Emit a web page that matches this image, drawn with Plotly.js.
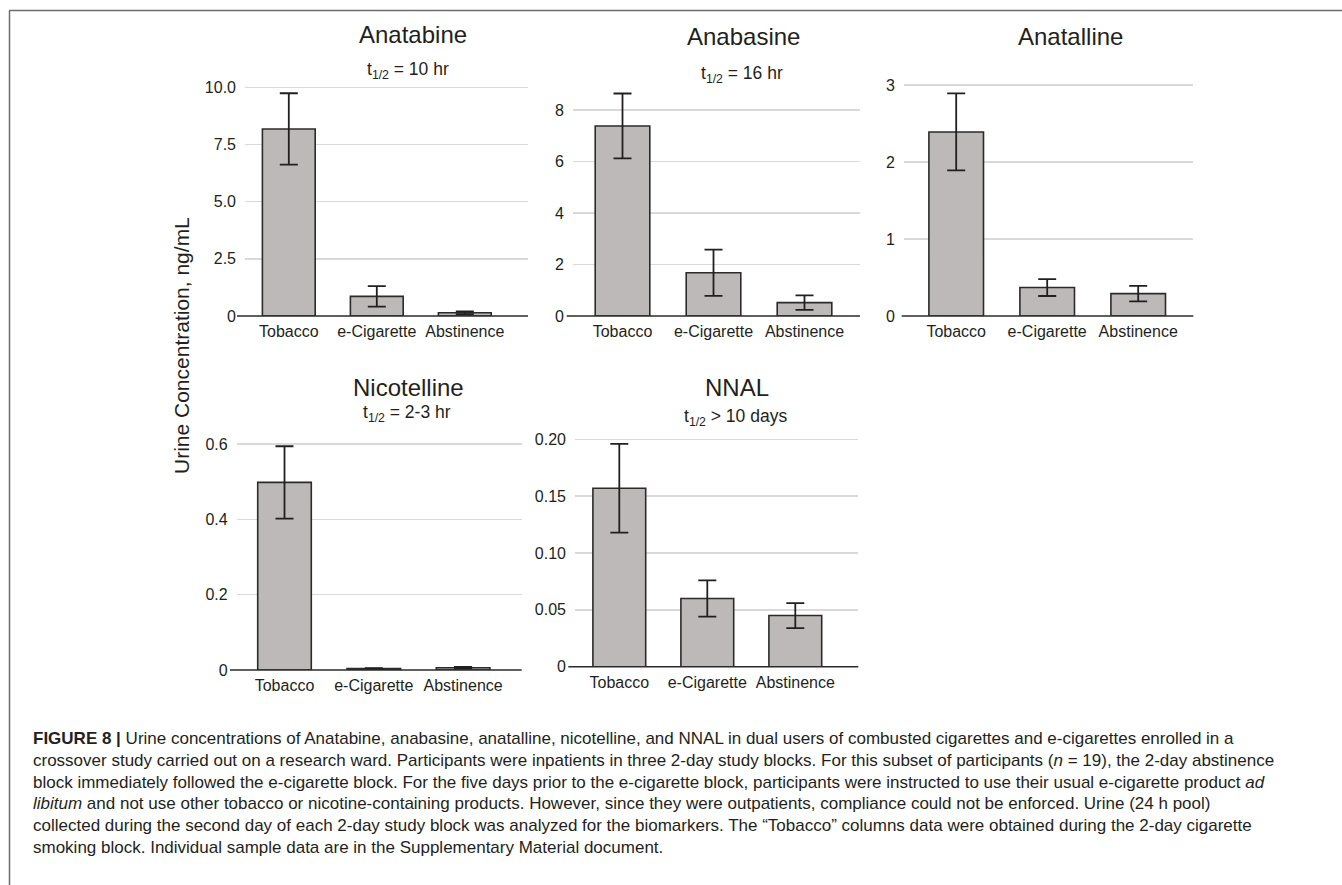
<!DOCTYPE html>
<html>
<head>
<meta charset="utf-8">
<script src="https://cdn.plot.ly/plotly-3.0.1.min.js"></script>
<style>
html,body{margin:0;padding:0;background:#fff;}
#chart{width:1342px;height:885px;}
</style>
</head>
<body>
<div id="chart"></div>
<script>
// ---------------- data ----------------
const categories = ['Tobacco', 'e-Cigarette', 'Abstinence'];

const anatabineMean = [8.18, 0.86, 0.14];
const anatabineErr  = [1.56, 0.45, 0.06];

const anabasineMean = [7.38, 1.68, 0.52];
const anabasineErr  = [1.26, 0.90, 0.28];

const anatallineMean = [2.39, 0.37, 0.29];
const anatallineErr  = [0.50, 0.11, 0.10];

const nicotellineMean = [0.498, 0.004, 0.006];
const nicotellineErr  = [0.096, 0.001, 0.002];

const nnalMean = [0.157, 0.060, 0.045];
const nnalErr  = [0.039, 0.016, 0.011];

const panelTitles = ['Anatabine', 'Anabasine', 'Anatalline', 'Nicotelline', 'NNAL'];
const panelSubtitles = ['t<sub>1/2</sub> = 10 hr', 't<sub>1/2</sub> = 16 hr', '', 't<sub>1/2</sub> = 2-3 hr', 't<sub>1/2</sub> &gt; 10 days'];

const tickVals1 = [0, 2.5, 5, 7.5, 10];      const tickText1 = ['0', '2.5', '5.0', '7.5', '10.0'];
const tickVals2 = [0, 2, 4, 6, 8];           const tickText2 = ['0', '2', '4', '6', '8'];
const tickVals3 = [0, 1, 2, 3];              const tickText3 = ['0', '1', '2', '3'];
const tickVals4 = [0, 0.2, 0.4, 0.6];        const tickText4 = ['0', '0.2', '0.4', '0.6'];
const tickVals5 = [0, 0.05, 0.10, 0.15, 0.20]; const tickText5 = ['0', '0.05', '0.10', '0.15', '0.20'];

const yAxisTitle = 'Urine Concentration, ng/mL';

const captionLines = [
  '<b>FIGURE 8 |</b> Urine concentrations of Anatabine, anabasine, anatalline, nicotelline, and NNAL in dual users of combusted cigarettes and e-cigarettes enrolled in a',
  'crossover study carried out on a research ward. Participants were inpatients in three 2-day study blocks. For this subset of participants (<i>n</i> = 19), the 2-day abstinence',
  'block immediately followed the e-cigarette block. For the five days prior to the e-cigarette block, participants were instructed to use their usual e-cigarette product <i>ad</i>',
  '<i>libitum</i> and not use other tobacco or nicotine-containing products. However, since they were outpatients, compliance could not be enforced. Urine (24 h pool)',
  'collected during the second day of each 2-day study block was analyzed for the biomarkers. The \u201cTobacco\u201d columns data were obtained during the 2-day cigarette',
  'smoking block. Individual sample data are in the Supplementary Material document.'
];

// ---------------- layout geometry (pixels) ----------------
const W = 1342, H = 885;
const FONT = '"Liberation Sans", Arial, Helvetica, sans-serif';
const TXT = '#231f20';

const panels = [
  {mean: anatabineMean,  err: anatabineErr,  tv: tickVals1, tt: tickText1, gl: 245,   gr: 528,   c0: 288.8, step: 88,   al: 237,   y0: 316,   topV: 10,  topPx: 87.3, tx: 413,    ty: 35,  sx: 408, sy: 70},
  {mean: anabasineMean,  err: anabasineErr,  tv: tickVals2, tt: tickText2, gl: 573,   gr: 860,   c0: 622.5, step: 91,   al: 566.7, y0: 316,   topV: 8,   topPx: 110,  tx: 743.7,  ty: 37,  sx: 742, sy: 74.5},
  {mean: anatallineMean, err: anatallineErr, tv: tickVals3, tt: tickText3, gl: 904,   gr: 1193.3,c0: 956.2, step: 91,   al: 901.7, y0: 316,   topV: 3,   topPx: 85,   tx: 1070.5, ty: 37,  sx: 0,   sy: 0},
  {mean: nicotellineMean,err: nicotellineErr,tv: tickVals4, tt: tickText4, gl: 236.7, gr: 521.7, c0: 284.5, step: 89.3, al: 230,   y0: 670,   topV: 0.6, topPx: 444,  tx: 408.5,  ty: 387, sx: 407, sy: 413},
  {mean: nnalMean,       err: nnalErr,       tv: tickVals5, tt: tickText5, gl: 575,   gr: 858.3, c0: 619.3, step: 88,   al: 568.3, y0: 666.7, topV: 0.2, topPx: 439.3,tx: 736.7,  ty: 387, sx: 735, sy: 417}
];

const px2x = p => p / W;
const px2y = p => 1 - p / H;

const data = [];
const layout = {
  width: W, height: H,
  margin: {l: 0, r: 0, t: 0, b: 0},
  paper_bgcolor: '#ffffff',
  plot_bgcolor: 'rgba(0,0,0,0)',
  showlegend: false,
  font: {family: FONT, color: TXT, size: 16},
  shapes: [],
  annotations: []
};

panels.forEach((p, i) => {
  const n = i + 1;
  const xa = 'xaxis' + (n === 1 ? '' : n);
  const ya = 'yaxis' + (n === 1 ? '' : n);
  const xr = 'x' + (n === 1 ? '' : n);
  const yr = 'y' + (n === 1 ? '' : n);

  data.push({
    type: 'bar',
    x: [0, 1, 2],
    y: p.mean,
    width: 0.6,
    xaxis: xr, yaxis: yr,
    marker: {color: '#bdb9b8', line: {color: '#2b2b2b', width: 1.6}},
    error_y: {type: 'data', array: p.err, visible: true, color: TXT, thickness: 1.8, width: 9},
    cliponaxis: false,
    hoverinfo: 'y'
  });

  const xmin = (p.gl - p.c0) / p.step;
  const xmax = (p.gr - p.c0) / p.step;
  const ppu = (p.y0 - p.topPx) / p.topV;
  let hi = 0;
  p.mean.forEach((m, k) => { hi = Math.max(hi, m + p.err[k]); });
  const ymax = Math.max(p.topV * 1.02, hi * 1.03);
  const topDomPx = p.y0 - ymax * ppu;

  layout[xa] = {
    domain: [px2x(p.gl), px2x(p.gr)],
    range: [xmin, xmax],
    anchor: yr,
    tickmode: 'array',
    tickvals: [0, 1, 2],
    ticktext: categories,
    showgrid: false, zeroline: false, showline: false,
    ticks: '',
    ticklabelstandoff: 4,
    tickfont: {family: FONT, size: 16, color: TXT},
    fixedrange: true
  };
  layout[ya] = {
    domain: [px2y(p.y0), px2y(topDomPx)],
    range: [0, ymax],
    anchor: xr,
    tickmode: 'array',
    tickvals: p.tv,
    ticktext: p.tt,
    showgrid: true, gridcolor: '#d9d9d9', gridwidth: 1.5,
    zeroline: false, showline: false,
    ticks: '',
    ticklabelstandoff: 8,
    tickfont: {family: FONT, size: 16, color: TXT},
    fixedrange: true
  };

  // baseline (axis line) extending slightly left of the gridlines
  layout.shapes.push({
    type: 'line', xref: xr + ' domain', yref: yr + ' domain',
    x0: (p.al - p.gl) / (p.gr - p.gl), x1: 1, y0: 0, y1: 0,
    line: {color: '#2b2b2b', width: 1.6}, layer: 'above'
  });

  layout.annotations.push({
    xref: 'paper', yref: 'paper', x: px2x(p.tx), y: px2y(p.ty),
    xanchor: 'center', yanchor: 'middle', showarrow: false,
    text: panelTitles[i], font: {family: FONT, size: 24, color: TXT}
  });
  if (panelSubtitles[i]) {
    layout.annotations.push({
      xref: 'paper', yref: 'paper', x: px2x(p.sx), y: px2y(p.sy),
      xanchor: 'center', yanchor: 'middle', showarrow: false,
      text: panelSubtitles[i], font: {family: FONT, size: 17.5, color: TXT}
    });
  }
});

// shared y axis title
layout.annotations.push({
  xref: 'paper', yref: 'paper', x: px2x(181), y: px2y(346),
  xanchor: 'center', yanchor: 'middle', showarrow: false, textangle: -90,
  text: yAxisTitle, font: {family: FONT, size: 21, color: TXT}
});

// caption
const capY = [738, 760, 782, 803.5, 825, 847];
captionLines.forEach((t, k) => {
  layout.annotations.push({
    xref: 'paper', yref: 'paper', x: px2x(31), y: px2y(capY[k]),
    xanchor: 'left', yanchor: 'middle', showarrow: false, align: 'left',
    text: t, font: {family: FONT, size: 17, color: TXT}
  });
});

// page frame lines
layout.shapes.push({type: 'line', xref: 'paper', yref: 'paper', x0: px2x(9), x1: 1, y0: px2y(10.5), y1: px2y(10.5), line: {color: '#6e6e6e', width: 1.5}});
layout.shapes.push({type: 'line', xref: 'paper', yref: 'paper', x0: px2x(9.5), x1: px2x(9.5), y0: px2y(10.5), y1: 0, line: {color: '#6e6e6e', width: 1.5}});

Plotly.newPlot('chart', data, layout, {displayModeBar: false, staticPlot: true});
</script>
</body>
</html>
